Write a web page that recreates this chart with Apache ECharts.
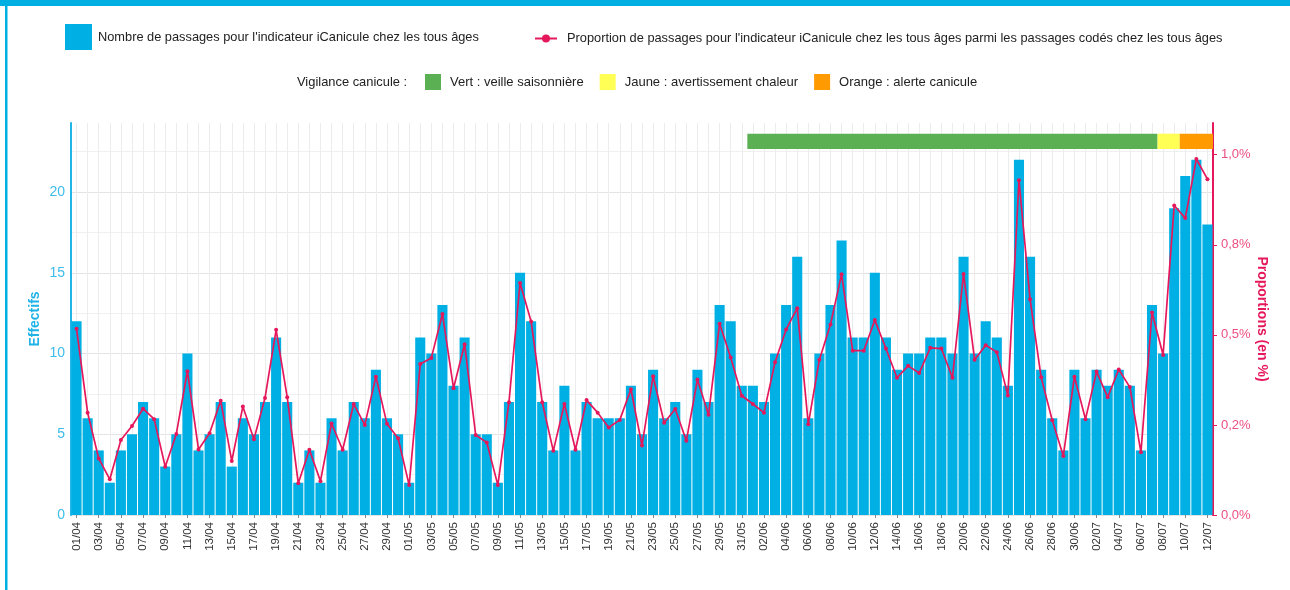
<!DOCTYPE html>
<html lang="fr">
  <head>
    <meta charset="UTF-8" />
    <title>iCanicule - passages</title>
    <style>
      html, body { margin: 0; padding: 0; background: #ffffff; }
      #chart { width: 1290px; height: 590px; }
    </style>
    <script src="https://cdn.jsdelivr.net/npm/echarts@6.0.0/dist/echarts.min.js"></script>
  </head>
  <body>
    <div id="chart"></div>
    <script>
      // jours (01/04 -> 12/07)
      const datesAvril = ["01/04","02/04","03/04","04/04","05/04","06/04","07/04","08/04","09/04","10/04",
        "11/04","12/04","13/04","14/04","15/04","16/04","17/04","18/04","19/04","20/04",
        "21/04","22/04","23/04","24/04","25/04","26/04","27/04","28/04","29/04","30/04"];
      const datesMai = ["01/05","02/05","03/05","04/05","05/05","06/05","07/05","08/05","09/05","10/05",
        "11/05","12/05","13/05","14/05","15/05","16/05","17/05","18/05","19/05","20/05",
        "21/05","22/05","23/05","24/05","25/05","26/05","27/05","28/05","29/05","30/05","31/05"];
      const datesJuin = ["01/06","02/06","03/06","04/06","05/06","06/06","07/06","08/06","09/06","10/06",
        "11/06","12/06","13/06","14/06","15/06","16/06","17/06","18/06","19/06","20/06",
        "21/06","22/06","23/06","24/06","25/06","26/06","27/06","28/06","29/06","30/06"];
      const datesJuillet = ["01/07","02/07","03/07","04/07","05/07","06/07","07/07","08/07","09/07","10/07",
        "11/07","12/07"];
      const dates = datesAvril.concat(datesMai, datesJuin, datesJuillet);

      // nombre de passages
      const passages = [
        12, 6, 4, 2, 4, 5, 7, 6, 3, 5,
        10, 4, 5, 7, 3, 6, 5, 7, 11, 7,
        2, 4, 2, 6, 4, 7, 6, 9, 6, 5,
        2, 11, 10, 13, 8, 11, 5, 5, 2, 7,
        15, 12, 7, 4, 8, 4, 7, 6, 6, 6,
        8, 5, 9, 6, 7, 5, 9, 7, 13, 12,
        8, 8, 7, 10, 13, 16, 6, 10, 13, 17,
        11, 11, 15, 11, 9, 10, 10, 11, 11, 10,
        16, 10, 12, 11, 8, 22, 16, 9, 6, 4,
        9, 6, 9, 8, 9, 8, 4, 13, 10, 19,
        21, 22, 18
      ];

      // proportion (en %)
      const proportions = [
        0.517, 0.284, 0.157, 0.099, 0.208, 0.247, 0.295, 0.266, 0.134, 0.225,
        0.399, 0.182, 0.227, 0.317, 0.150, 0.301, 0.210, 0.325, 0.514, 0.327,
        0.088, 0.181, 0.094, 0.254, 0.181, 0.308, 0.250, 0.384, 0.253, 0.213,
        0.083, 0.419, 0.436, 0.558, 0.352, 0.474, 0.222, 0.201, 0.083, 0.313,
        0.644, 0.537, 0.313, 0.178, 0.308, 0.181, 0.319, 0.284, 0.243, 0.264,
        0.349, 0.193, 0.385, 0.256, 0.294, 0.206, 0.376, 0.278, 0.531, 0.437,
        0.331, 0.308, 0.284, 0.424, 0.515, 0.574, 0.252, 0.431, 0.529, 0.668,
        0.456, 0.456, 0.541, 0.462, 0.381, 0.414, 0.394, 0.464, 0.462, 0.381,
        0.669, 0.431, 0.471, 0.452, 0.332, 0.929, 0.599, 0.382, 0.263, 0.164,
        0.384, 0.266, 0.398, 0.327, 0.404, 0.355, 0.174, 0.562, 0.444, 0.859,
        0.824, 0.988, 0.932
      ];

      // vigilance canicule
      const vigilanceNoms = ["Vert : veille saisonnière", "Jaune : avertissement chaleur", "Orange : alerte canicule"];
      const vigilanceCouleurs = ["#5cb054", "#ffff55", "#ff9a00"];
      const vigilanceDebut = ["01/06", "08/07", "10/07"];
      const vigilanceFin = ["07/07", "09/07", "12/07"];

      const rightTicks = [0, 0.25, 0.5, 0.75, 1];
      const rightTickLabels = ["0,0%", "0,2%", "0,5%", "0,8%", "1,0%"];

      const nomBarres = "Nombre de passages pour l'indicateur iCanicule chez les tous âges";
      const nomLigne = "Proportion de passages pour l'indicateur iCanicule chez les tous âges parmi les passages codés chez les tous âges";

      const cyan = "#00b0e4";
      const rose = "#e5185c";

      function renderVigilance(params, api) {
        const p0 = api.coord([api.value(0), 23.62]);
        const p1 = api.coord([api.value(1), 22.67]);
        const band = api.size([1, 0])[0];
        return {
          type: "rect",
          shape: { x: p0[0] - band / 2, y: p0[1], width: p1[0] - p0[0] + band, height: p1[1] - p0[1] },
          style: api.style()
        };
      }

      const vigilanceSeries = vigilanceNoms.map(function (nom, i) {
        return {
          name: nom,
          type: "custom",
          renderItem: renderVigilance,
          itemStyle: { color: vigilanceCouleurs[i] },
          encode: { x: [0, 1] },
          data: [[dates.indexOf(vigilanceDebut[i]), dates.indexOf(vigilanceFin[i])]],
          z: 5,
          silent: true
        };
      });

      const dom = document.getElementById("chart");
      const myChart = echarts.init(dom, null, { renderer: "canvas" });

      const option = {
        animation: false,
        textStyle: { fontFamily: "Liberation Sans, Arial, sans-serif" },
        graphic: [
          { type: "rect", left: 0, top: 0, shape: { width: 1290, height: 6 }, style: { fill: "#00afe2" } },
          { type: "rect", left: 5, top: 0, shape: { width: 2.5, height: 590 }, style: { fill: "#00afe2" } }
        ],
        title: {
          text: "Vigilance canicule :",
          left: 297,
          top: 76,
          padding: 0,
          textStyle: { fontSize: 12.9, fontWeight: "normal", color: "#222" }
        },
        legend: [
          {
            data: [nomBarres],
            left: 65,
            top: 24,
            padding: 0,
            itemWidth: 27,
            itemHeight: 26,
            icon: "rect",
            textStyle: { fontSize: 12.8, color: "#222", padding: [0, 0, 0, 1] }
          },
          {
            data: [nomLigne],
            left: 534,
            top: 32,
            padding: 0,
            itemWidth: 22,
            itemHeight: 10,
            textStyle: { fontSize: 12.8, color: "#222", padding: [0, 0, 0, 5] }
          },
          {
            data: vigilanceNoms,
            left: 425,
            top: 74,
            padding: 0,
            itemWidth: 16,
            itemHeight: 16,
            itemGap: 16,
            icon: "rect",
            textStyle: { fontSize: 13, color: "#222", padding: [0, 0, 0, 4] }
          }
        ],
        grid: { left: 71, right: 77, top: 123, bottom: 75, containLabel: false },
        xAxis: {
          type: "category",
          data: dates,
          axisLine: { show: false },
          axisTick: { show: true, alignWithLabel: true, interval: 1, length: 3, lineStyle: { color: "#888" } },
          axisLabel: { rotate: 90, interval: 1, fontSize: 11.5, color: "#333", margin: 7 },
          splitLine: { show: true, interval: 0, alignWithLabel: true, lineStyle: { color: "#ececec", width: 1 } }
        },
        yAxis: [
          {
            type: "value",
            min: 0,
            max: 24.28,
            interval: 2.5,
            name: "Effectifs",
            nameLocation: "middle",
            nameGap: 29,
            nameMoveOverlap: false,
            nameTextStyle: { color: "#1fb3e6", fontWeight: "bold", fontSize: 14 },
            axisLine: { show: true, lineStyle: { color: "#22b5e8", width: 2 } },
            axisTick: { show: false },
            axisLabel: {
              color: "#3dbdea",
              fontSize: 14,
              margin: 6,
              formatter: function (v) { return v % 5 === 0 ? String(v) : ""; }
            },
            splitLine: { show: true, showMaxLine: false, lineStyle: { color: ["#e4e4e4", "#f0f0f0"], width: 1 } }
          },
          {
            type: "value",
            min: 0,
            max: 1.088,
            interval: 0.25,
            name: "Proportions (en %)",
            nameLocation: "middle",
            nameGap: 42,
            nameRotate: -90,
            nameMoveOverlap: false,
            nameTextStyle: { color: rose, fontWeight: "bold", fontSize: 14 },
            axisLine: { show: true, lineStyle: { color: rose, width: 2 } },
            axisTick: { show: true, length: 4, customValues: rightTicks, lineStyle: { color: rose } },
            axisLabel: {
              color: "#ec4f82",
              fontSize: 13,
              margin: 8,
              customValues: rightTicks,
              formatter: function (v) {
                const k = Math.round(v / 0.25);
                return Math.abs(v - k * 0.25) < 1e-9 ? rightTickLabels[k] : "";
              }
            },
            splitLine: { show: false }
          }
        ],
        series: [
          {
            name: nomBarres,
            type: "bar",
            data: passages,
            itemStyle: { color: cyan },
            barCategoryGap: "9%",
            z: 2
          },
          {
            name: nomLigne,
            type: "line",
            yAxisIndex: 1,
            data: proportions,
            symbol: "circle",
            symbolSize: 4,
            showSymbol: true,
            lineStyle: { color: rose, width: 1.7 },
            itemStyle: { color: rose },
            z: 4
          }
        ].concat(vigilanceSeries)
      };

      myChart.setOption(option);
      window.addEventListener("resize", myChart.resize);
    </script>
  </body>
</html>
